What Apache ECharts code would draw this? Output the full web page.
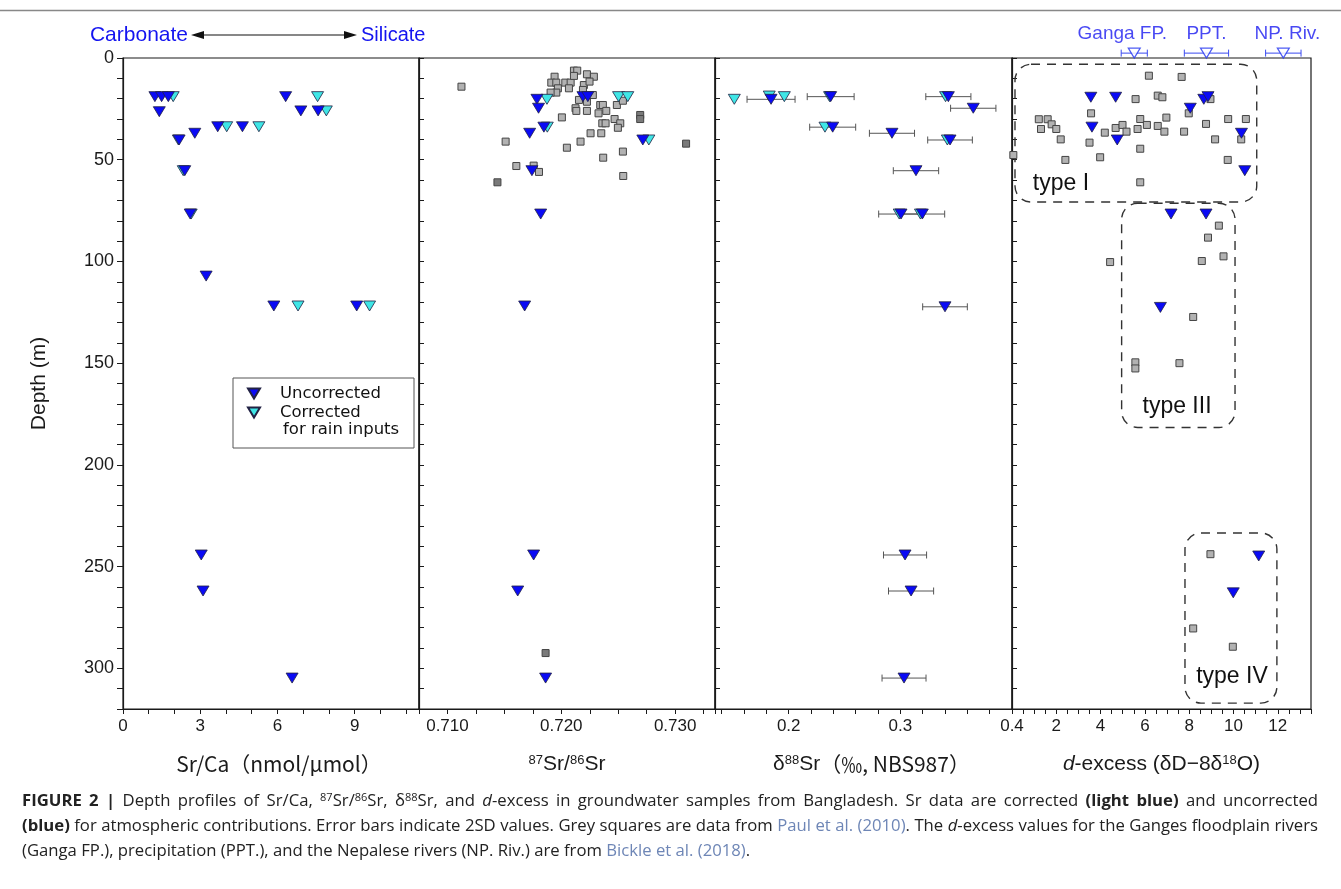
<!DOCTYPE html>
<html>
<head>
<meta charset="utf-8">
<script src="https://cdn.jsdelivr.net/npm/echarts@6/dist/echarts.min.js"></script>
<style>
html, body { margin: 0; background: #fff; }
#chart { width: 1341px; height: 889px; }
</style>
</head>
<body>
<div id="chart"></div>
<script>
// ---- data: [value, depth (m)] ----
const srcaUncorr = [[1.24, 19], [1.5, 19], [1.76, 19], [1.41, 26.4], [3.68, 33.8], [4.64, 33.8], [2.79, 37], [2.18, 40.3],
  [2.4, 55.4], [6.32, 19], [6.91, 26], [7.58, 26], [2.61, 76.7], [3.23, 107.2], [5.86, 121.9], [9.08, 121.9],
  [3.04, 244.3], [3.11, 262], [6.57, 304.8]]
const srcaCorr = [[1.95, 19], [4.03, 33.8], [5.28, 33.8], [2.15, 40.3], [2.34, 55.4], [7.56, 19], [7.9, 26],
  [2.65, 76.7], [6.8, 121.9], [9.58, 121.9]]

const srUncorr = [[0.71786, 20.3], [0.718, 24.7], [0.7219, 19], [0.72233, 19], [0.71847, 34], [0.71722, 37],
  [0.72716, 40.3], [0.71742, 55.4], [0.71819, 76.7], [0.71678, 121.9], [0.71757, 244.3], [0.71617, 262], [0.71862, 304.8]]
const srCorr = [[0.71874, 20.3], [0.72503, 19], [0.72584, 19], [0.71877, 34], [0.72769, 40.3]]
const srPaul = [[0.71123, 14.1], [0.71511, 41.1], [0.71605, 53.1], [0.71757, 52.9], [0.71804, 56],
  [0.71941, 9.2], [0.72111, 6.2], [0.7214, 6.2], [0.72225, 8], [0.72286, 9.2],
  [0.71912, 12.1], [0.71956, 12.1], [0.72035, 12.1], [0.72082, 12.1], [0.7197, 14.9], [0.72067, 14.9],
  [0.71956, 17], [0.71906, 17], [0.72111, 8.8], [0.72198, 13.3], [0.72248, 11.6], [0.7219, 15.7],
  [0.72155, 20.6], [0.72225, 21.5], [0.72277, 18.2], [0.72125, 24.7], [0.72132, 26], [0.72225, 26],
  [0.72342, 23.1], [0.72365, 23.1], [0.72327, 27.2], [0.72395, 26], [0.72488, 23.1], [0.72541, 21],
  [0.72005, 29.2], [0.72468, 30], [0.72518, 32.1], [0.72497, 34.3], [0.7236, 32.1], [0.72389, 32.1],
  [0.72257, 37], [0.72351, 37], [0.72169, 41.1], [0.72049, 44.1], [0.72541, 46], [0.72368, 49], [0.72544, 58]]
const srPaulDark = [[0.71439, 61.1], [0.72693, 28], [0.72693, 30], [0.73096, 42.1], [0.71862, 292.5]]

const d88Uncorr = [[0.1842, 20.3], [0.2376, 19], [0.2394, 34], [0.2925, 37], [0.343, 19], [0.3653, 24.7],
  [0.3445, 40.3], [0.314, 55.4], [0.3006, 76.7], [0.3197, 76.7], [0.34, 122.3], [0.3042, 244.3],
  [0.3096, 262], [0.3033, 304.8]]
const d88Err = [0.0215, 0.021, 0.0206, 0.0202, 0.0202, 0.0203, 0.02, 0.0203, 0.02, 0.02, 0.02, 0.0193, 0.0202, 0.0197]
const d88Corr = [[0.1513, 20.3], [0.1826, 18.7], [0.1961, 19], [0.2366, 19], [0.2325, 34], [0.3405, 19],
  [0.3421, 40.3], [0.299, 76.7], [0.318, 76.7]]

const dxsUncorr = [[3.56, 19.3], [4.68, 19.3], [3.61, 34], [4.75, 40.3], [8.05, 24.7], [8.66, 20.3], [8.85, 19],
  [10.36, 37], [10.51, 55.4], [7.18, 76.7], [8.76, 76.7], [6.7, 122.6], [11.14, 244.8], [9.99, 262.9]]
const dxsPaul = [[6.18, 8.7], [7.66, 9.3], [5.58, 20.2], [6.58, 18.5], [6.79, 19.3], [8.96, 20.2], [3.57, 27.2],
  [7.98, 27.2], [1.21, 30.1], [1.61, 30.1], [1.79, 32.6], [1.31, 34.9], [2.0, 34.9], [2.2, 40], [2.41, 50.1],
  [3.5, 41.6], [3.98, 48.8], [4.19, 36.7], [4.68, 34.4], [4.99, 32.9], [5.17, 36.2], [5.67, 34.9], [5.79, 30],
  [6.09, 32.9], [5.79, 44.6], [5.79, 61.1], [6.58, 33.4], [6.88, 36.2], [6.97, 29.3], [7.77, 36.2], [8.76, 32.4],
  [9.17, 40], [9.76, 30], [10.56, 30], [10.35, 40], [9.74, 50.1], [0.06, 47.7],
  [9.34, 82.4], [8.85, 88.3], [9.55, 97.5], [8.57, 99.8], [8.18, 127.3], [7.56, 150], [5.57, 149.6],
  [5.57, 152.6], [4.43, 100.3], [8.96, 243.9], [8.18, 280.4], [9.97, 289.4]]

// river / rain end-members (Bickle et al. 2018): value, 2SD
const refNames = ['Ganga FP.', 'PPT.', 'NP. Riv.']
const refValues = [5.52, 8.78, 12.25]
const refErr = [0.59, 1.0, 0.8]
const refDepth = -2.4

// dashed groups in the d-excess panel: [x0, depth0, x1, depth1]
const typeNames = ['type I', 'type III', 'type IV']
const typeBoxes = [[0.135, 3.1, 11.05, 70.8], [4.95, 71.4, 10.07, 181.6], [7.81, 233.5, 11.96, 317.1]]
const typeLabelAt = [[2.21, 61.6], [7.45, 171.4], [9.93, 304.2]]

// ---- styles ----
const FONT = 'Liberation Sans, Arial, sans-serif'
const CAP = 'Open Sans, Liberation Sans, sans-serif'
const JP = 'Noto Sans CJK JP, sans-serif'
const BLUE = '#0a0af5'
const CYAN = '#3fe6e6'
const TRI = 'path://M0,0L12,0L6,10Z'
const INK = '#1a1a1a'

const grids = [
  { left: 123, width: 296 },
  { left: 419, width: 296 },
  { left: 715, width: 297 },
  { left: 1012, width: 299 },
].map(g => ({ ...g, top: 58, height: 651, show: true, borderColor: INK, borderWidth: 1.2, outerBoundsMode: 'none' }))

const isMult = (v, s) => Math.abs(v / s - Math.round(v / s)) < 1e-6

const xAxis = (i, min, max, step, label, name, shift) => ({
  gridIndex: i,
  type: 'value',
  min,
  max,
  minInterval: step,
  maxInterval: step,
  splitNumber: Math.round((max - min) / step),
  axisLine: { onZero: false, lineStyle: { color: INK, width: 1.2 } },
  axisTick: { length: 5, lineStyle: { color: INK } },
  axisLabel: { fontSize: 17, color: INK, fontFamily: FONT, margin: 9, formatter: label },
  splitLine: { show: false },
  name,
  nameLocation: 'middle',
  nameGap: 45,
  nameTextStyle: { fontSize: 21, color: INK, fontFamily: FONT, rich: nameRich, padding: [0, 0, 0, shift || 0] },
})

const yAxis = i => ({
  gridIndex: i,
  type: 'value',
  inverse: true,
  min: 0,
  max: 320,
  interval: 10,
  axisLine: { onZero: false, lineStyle: { color: INK, width: 1.2 } },
  axisTick: { inside: i > 0, length: i ? 5 : 6, lineStyle: { color: INK } },
  axisLabel: { show: i === 0, fontSize: 18, color: INK, fontFamily: FONT, margin: 9, formatter: v => (v % 50 === 0 ? v : '') },
  splitLine: { show: false },
  name: i === 0 ? 'Depth (m)' : '',
  nameLocation: 'middle',
  nameGap: 73,
  nameTextStyle: { fontSize: 21, color: INK, fontFamily: FONT },
})

const nameRich = {
  sup: { fontSize: 13, verticalAlign: 'top', fontFamily: FONT },
  i: { fontStyle: 'italic', fontSize: 21, fontFamily: FONT },
  jp: { fontSize: 21, fontFamily: JP },
}

const tri = (name, i, data, color) => ({
  type: 'scatter', name, xAxisIndex: i, yAxisIndex: i, data,
  symbol: TRI, symbolSize: [12, 10],
  itemStyle: { color, borderColor: '#222244', borderWidth: 0.8, opacity: 1 },
})
const sq = (i, data, color) => ({
  type: 'scatter', name: 'Paul et al. (2010)', xAxisIndex: i, yAxisIndex: i, data,
  symbol: 'rect', symbolSize: 7, clip: false,
  itemStyle: { color, borderColor: '#444', borderWidth: 1, opacity: 1 },
})

const errorBar = (color, cap) => (params, api) => {
  const y = api.value(1)
  const lo = api.coord([api.value(0) - api.value(2), y])
  const hi = api.coord([api.value(0) + api.value(2), y])
  const style = { stroke: color, lineWidth: 1, fill: null }
  return {
    type: 'group',
    children: [
      { type: 'line', shape: { x1: lo[0], y1: lo[1], x2: hi[0], y2: hi[1] }, style },
      { type: 'line', shape: { x1: lo[0], y1: lo[1] - cap, x2: lo[0], y2: lo[1] + cap }, style },
      { type: 'line', shape: { x1: hi[0], y1: hi[1] - cap, x2: hi[0], y2: hi[1] + cap }, style },
    ],
  }
}

const series = [
  // Sr/Ca
  tri('Corrected', 0, srcaCorr, CYAN),
  tri('Uncorrected', 0, srcaUncorr, BLUE),
  // 87Sr/86Sr
  sq(1, srPaul, '#b2b2b2'),
  sq(1, srPaulDark, '#7a7a7a'),
  tri('Corrected', 1, srCorr, CYAN),
  tri('Uncorrected', 1, srUncorr, BLUE),
  // d88Sr
  {
    type: 'custom', xAxisIndex: 2, yAxisIndex: 2,
    data: d88Uncorr.map((p, k) => [p[0], p[1], d88Err[k]]),
    encode: { x: 0, y: 1 },
    renderItem: errorBar('#555', 3.5),
  },
  tri('Corrected', 2, d88Corr, CYAN),
  tri('Uncorrected', 2, d88Uncorr, BLUE),
  // d-excess
  {
    type: 'custom', xAxisIndex: 3, yAxisIndex: 3,
    data: typeBoxes,
    encode: { x: [0, 2], y: [1, 3] },
    renderItem: (params, api) => {
      const p0 = api.coord([api.value(0), api.value(1)])
      const p1 = api.coord([api.value(2), api.value(3)])
      const pl = api.coord(typeLabelAt[params.dataIndex])
      return {
        type: 'group',
        children: [
          {
            type: 'rect',
            shape: { x: p0[0], y: p0[1], width: p1[0] - p0[0], height: p1[1] - p0[1], r: 16 },
            style: { fill: null, stroke: '#333', lineWidth: 1.4, lineDash: [9, 7] },
          },
          {
            type: 'text', x: pl[0], y: pl[1],
            style: { text: typeNames[params.dataIndex], fontSize: 23, fontFamily: FONT, fill: '#111', align: 'center', verticalAlign: 'middle' },
          },
        ],
      }
    },
  },
  sq(3, dxsPaul, '#b2b2b2'),
  tri('Uncorrected', 3, dxsUncorr, BLUE),
  {
    type: 'custom', xAxisIndex: 3, yAxisIndex: 3,
    data: refValues.map((v, k) => [v, refDepth, refErr[k]]),
    encode: { x: 0, y: 1 },
    renderItem: errorBar('#3a4af0', 3.5),
  },
  {
    type: 'scatter', name: 'Bickle et al. (2018)', xAxisIndex: 3, yAxisIndex: 3, clip: false,
    data: refValues.map((v, k) => ({
      value: [v, refDepth],
      label: { formatter: refNames[k], offset: [[-12, 0], [0, 0], [4, 0]][k] },
    })),
    symbol: TRI, symbolSize: [12, 10],
    itemStyle: { color: '#fff', borderColor: '#2233f0', borderWidth: 1.2 },
    label: { show: true, position: 'top', distance: 4, fontSize: 19, fontFamily: FONT, color: '#1a1af0' },
  },
]

// ---- caption: justified like the journal page (first two lines) ----
const captionLines = [
  [['b', 'FIGURE 2 |'], ['n', ' Depth profiles of Sr/Ca, '], ['s', '87'], ['n', 'Sr/'], ['s', '86'], ['n', 'Sr, δ'], ['s', '88'],
    ['n', 'Sr, and '], ['i', 'd'], ['n', '-excess in groundwater samples from Bangladesh. Sr data are corrected '],
    ['b', '(light blue)'], ['n', ' and uncorrected']],
  [['b', '(blue)'], ['n', ' for atmospheric contributions. Error bars indicate 2SD values. Grey squares are data from '],
    ['a', 'Paul et al. (2010)'], ['n', '. The '], ['i', 'd'], ['n', '-excess values for the Ganges floodplain rivers']],
  [['n', '(Ganga FP.), precipitation (PPT.), and the Nepalese rivers (NP. Riv.) are from '], ['a', 'Bickle et al. (2018)'], ['n', '.']],
]
const CAP_SIZE = 16.7
const capStyles = {
  n: { fontSize: CAP_SIZE, fontFamily: CAP, fill: '#222' },
  b: { fontSize: CAP_SIZE, fontFamily: CAP, fill: '#222', fontWeight: 'bold' },
  i: { fontSize: CAP_SIZE, fontFamily: CAP, fill: '#222', fontStyle: 'italic' },
  a: { fontSize: CAP_SIZE, fontFamily: CAP, fill: '#6e86b6' },
  s: { fontSize: 11, fontFamily: CAP, fill: '#222', verticalAlign: 'top' },
}
const measureCtx = document.createElement('canvas').getContext('2d')
const textWidth = (t, st) => {
  measureCtx.font = `${st.fontStyle || 'normal'} ${st.fontWeight || 'normal'} ${st.fontSize}px ${st.fontFamily}`
  return measureCtx.measureText(t).width
}
const captionText = (segs, justifyTo) => {
  const pieces = []
  segs.forEach(([st, t]) => t.split(' ').forEach((w, k) => {
    if (k) pieces.push(null)
    if (w) pieces.push([st, w])
  }))
  const nSp = pieces.filter(p => p === null).length
  const wordsW = pieces.reduce((s, p) => s + (p ? textWidth(p[1], capStyles[p[0]]) : 0), 0)
  const sp = justifyTo ? (justifyTo - wordsW) / nSp : textWidth(' ', capStyles.n)
  return {
    text: pieces.map(p => (p ? `{${p[0]}|${p[1]}}` : '{sp| }')).join(''),
    rich: { ...capStyles, sp: { fontSize: CAP_SIZE, fontFamily: CAP, width: sp } },
  }
}

const graphic = [
  { type: 'line', shape: { x1: 0, y1: 10.5, x2: 1341, y2: 10.5 }, style: { stroke: '#888', lineWidth: 1.5 } },
  { type: 'text', x: 188, y: 35, style: { text: 'Carbonate', fill: '#1414f0', fontSize: 21, fontFamily: FONT, align: 'right', verticalAlign: 'middle' } },
  { type: 'text', x: 361, y: 35, style: { text: 'Silicate', fill: '#1414f0', fontSize: 20, fontFamily: FONT, align: 'left', verticalAlign: 'middle' } },
  { type: 'line', shape: { x1: 200, y1: 35, x2: 348, y2: 35 }, style: { stroke: '#111', lineWidth: 1.2 } },
  { type: 'polygon', shape: { points: [[191, 35], [204, 31], [204, 39]] }, style: { fill: '#111' } },
  { type: 'polygon', shape: { points: [[357, 35], [344, 31], [344, 39]] }, style: { fill: '#111' } },
  { type: 'rect', shape: { x: 233, y: 378, width: 181, height: 70 }, style: { fill: null, stroke: '#555', lineWidth: 1 } },
  { type: 'text', x: 283, y: 430, style: { text: 'for rain inputs', fill: '#111', fontSize: 16.5, fontFamily: 'DejaVu Sans', verticalAlign: 'middle' } },
  ...captionLines.map((segs, k) => {
    const c = captionText(segs, k < 2 ? 1296 : 0)
    return {
      type: 'text', x: 22, y: 801 + k * 25.3,
      style: { text: c.text, rich: c.rich, fill: '#222', fontSize: CAP_SIZE, fontFamily: CAP, verticalAlign: 'middle' },
    }
  }),
]

const chart = echarts.init(document.getElementById('chart'))
chart.setOption({
  animation: false,
  backgroundColor: '#fff',
  grid: grids,
  xAxis: [
    xAxis(0, 0, 11.5, 1, v => (isMult(v, 3) && v <= 9 ? String(v) : ''), '{jp|Sr/Ca（nmol/μmol）}', 16),
    xAxis(1, 0.7075, 0.7335, 0.0025, v => (isMult(v, 0.01) ? v.toFixed(3) : ''), '{sup|87}Sr/{sup|86}Sr'),
    xAxis(2, 0.134, 0.4, 0.02, v => (isMult(v, 0.1) ? v.toFixed(1) : ''), 'δ{sup|88}Sr{jp|（‰, NBS987）}', 16),
    xAxis(3, 0, 13.5, 0.5, v => (v > 0 && isMult(v, 2) ? String(v) : ''), '{i|d}-excess (δD−8δ{sup|18}O)'),
  ],
  yAxis: [yAxis(0), yAxis(1), yAxis(2), yAxis(3)],
  legend: {
    data: [{ name: 'Uncorrected', icon: TRI }, { name: 'Corrected', icon: TRI }],
    orient: 'vertical',
    left: 247,
    top: 385,
    padding: 0,
    itemWidth: 12,
    itemHeight: 10,
    itemGap: 2,
    selectedMode: false,
    textStyle: { fontFamily: 'DejaVu Sans', fontSize: 16.5, color: '#111', padding: [0, 0, 0, 15], lineHeight: 16 },
  },
  series,
  graphic,
})
</script>
</body>
</html>
